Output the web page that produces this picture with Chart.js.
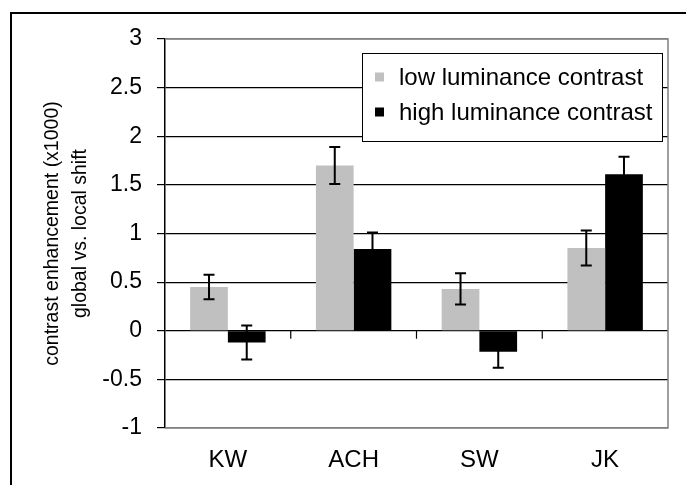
<!DOCTYPE html>
<html>
<head>
<meta charset="utf-8">
<script src="https://cdn.jsdelivr.net/npm/chart.js@4"></script>
<style>
  html, body { margin: 0; padding: 0; background: #fff; }
  #wrap { width: 686px; height: 485px; }
</style>
</head>
<body>
<div id="wrap"><canvas id="chart" width="686" height="485"></canvas></div>
<script>
"use strict";

const categories = ["KW", "ACH", "SW", "JK"];
const seriesNames = ["low luminance contrast", "high luminance contrast"];
const lowValues = [0.45, 1.70, 0.43, 0.85];
const lowErrors = [0.125, 0.19, 0.16, 0.18];
const highValues = [-0.12, 0.84, -0.215, 1.61];
const highErrors = [0.175, 0.17, 0.165, 0.18];
const yTicks = { min: -1, max: 3, step: 0.5 };
const yTitle = ["contrast enhancement (x1000)", "global vs. local shift"];

const FONT = "'Liberation Sans', Arial, sans-serif";

// outer frame, plot frame, zero-line ticks
const framePlugin = {
  id: "frame",
  beforeDraw(chart) {
    const { ctx } = chart;
    ctx.save();
    ctx.strokeStyle = "#000";
    ctx.lineWidth = 2;
    ctx.strokeRect(11, 13, 900, 700);
    ctx.restore();
  },
  afterDatasetsDraw(chart) {
    const { ctx, chartArea: a, scales } = chart;
    const x = scales.x;
    const y0 = scales.y.getPixelForValue(0);
    ctx.save();
    ctx.strokeStyle = "#808080";
    ctx.lineWidth = 1.5;
    ctx.beginPath();
    ctx.moveTo(a.left, a.top);
    ctx.lineTo(a.right, a.top);
    ctx.lineTo(a.right, a.bottom);
    ctx.lineTo(a.left, a.bottom);
    ctx.stroke();

    ctx.strokeStyle = "#000";
    ctx.lineWidth = 1.2;
    ctx.beginPath();
    for (let i = 0; i < categories.length - 1; i++) {
      const bx = (x.getPixelForValue(i) + x.getPixelForValue(i + 1)) / 2;
      ctx.moveTo(bx, y0);
      ctx.lineTo(bx, y0 + 8);
    }
    ctx.stroke();
    ctx.restore();
  },
};

const errorBarPlugin = {
  id: "errorBars",
  afterDatasetsDraw(chart) {
    const { ctx, scales } = chart;
    ctx.save();
    ctx.strokeStyle = "#000";
    ctx.lineWidth = 2;
    chart.data.datasets.forEach((ds, di) => {
      const meta = chart.getDatasetMeta(di);
      meta.data.forEach((bar, i) => {
        const v = ds.data[i];
        const e = ds.errors[i];
        const top = scales.y.getPixelForValue(v + e);
        const bot = scales.y.getPixelForValue(v - e);
        ctx.beginPath();
        ctx.moveTo(bar.x, top);
        ctx.lineTo(bar.x, bot);
        ctx.moveTo(bar.x - 5.5, top);
        ctx.lineTo(bar.x + 5.5, top);
        ctx.moveTo(bar.x - 5.5, bot);
        ctx.lineTo(bar.x + 5.5, bot);
        ctx.stroke();
      });
    });
    ctx.restore();
  },
};

const legendBoxPlugin = {
  id: "legendBox",
  afterDraw(chart) {
    const { ctx } = chart;
    const box = { x: 362, y: 53, w: 300, h: 88 };
    ctx.save();
    ctx.fillStyle = "#fff";
    ctx.fillRect(box.x, box.y, box.w, box.h);
    ctx.strokeStyle = "#000";
    ctx.lineWidth = 1;
    ctx.strokeRect(box.x + 0.5, box.y + 0.5, box.w, box.h);
    ctx.font = "24px " + FONT;
    ctx.textBaseline = "middle";
    chart.data.datasets.forEach((ds, i) => {
      const cy = box.y + 24 + i * 35;
      ctx.fillStyle = ds.backgroundColor;
      ctx.fillRect(box.x + 13, cy - 4.5, 9, 9);
      ctx.fillStyle = "#000";
      ctx.fillText(ds.label, box.x + 37, cy + 1);
    });
    ctx.restore();
  },
};

const edgeColor = (c) =>
  c.tick && (c.tick.value === yTicks.max || c.tick.value === yTicks.min) ? "#808080" : "#000";

new Chart(document.getElementById("chart").getContext("2d"), {
  type: "bar",
  data: {
    labels: categories,
    datasets: [
      {
        label: seriesNames[0],
        data: lowValues,
        errors: lowErrors,
        backgroundColor: "#c0c0c0",
        categoryPercentage: 0.6,
        barPercentage: 1.0,
      },
      {
        label: seriesNames[1],
        data: highValues,
        errors: highErrors,
        backgroundColor: "#000000",
        categoryPercentage: 0.6,
        barPercentage: 1.0,
      },
    ],
  },
  options: {
    responsive: false,
    animation: false,
    layout: { padding: { top: 39, right: 18, left: 0, bottom: 0 } },
    plugins: {
      legend: { display: false },
      tooltip: { enabled: false },
    },
    scales: {
      x: {
        grid: { display: false, drawTicks: false },
        border: { display: false },
        ticks: { color: "#000", font: { family: FONT, size: 24 }, padding: 18 },
        afterFit: (s) => { s.height = 57; },
      },
      y: {
        min: yTicks.min,
        max: yTicks.max,
        ticks: {
          stepSize: yTicks.step,
          color: "#000",
          font: { family: FONT, size: 23 },
          padding: 15,
          callback: (v) => String(Number(v.toFixed(1))),
        },
        grid: {
          color: edgeColor,
          lineWidth: 1.2,
          tickColor: "#000",
          tickLength: 8,
        },
        border: { color: "#000", width: 1.5 },
        title: {
          display: true,
          text: yTitle,
          color: "#000",
          font: { family: FONT, size: 19.5, lineHeight: 1.45 },
          padding: { top: 38, bottom: 0 },
        },
        afterFit: (s) => { s.width = 165; },
      },
    },
  },
  plugins: [framePlugin, errorBarPlugin, legendBoxPlugin],
});
</script>
</body>
</html>
